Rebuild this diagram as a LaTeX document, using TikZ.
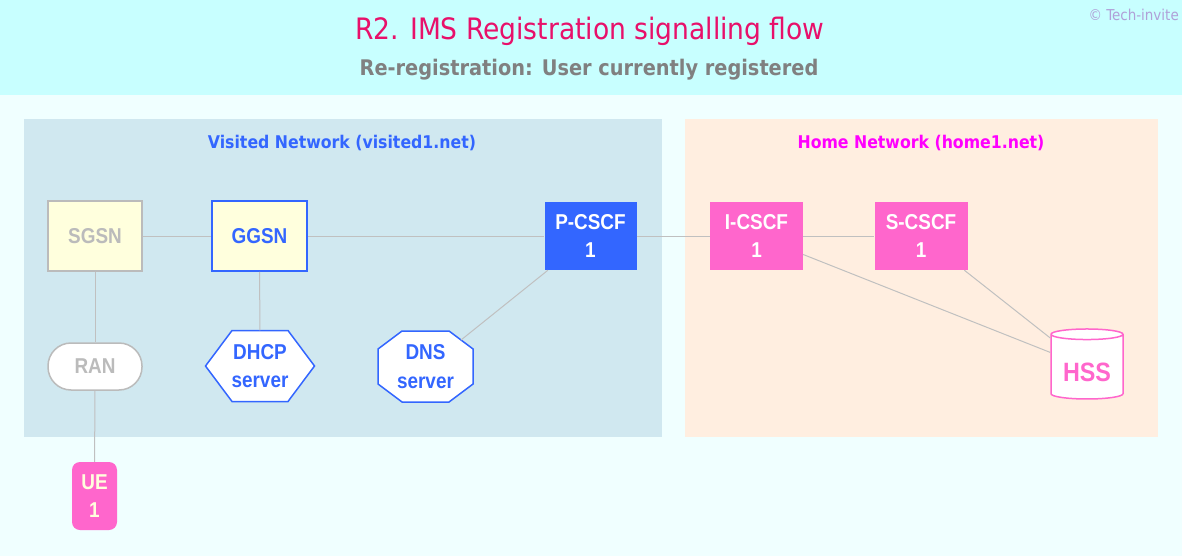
\documentclass[tikz,border=0pt]{standalone}
\usepackage{fontspec}
\setmainfont{Liberation Sans}
\newfontfamily\condfont{DejaVu Sans Condensed}
\newfontfamily\nodefam{Liberation Sans}[FakeStretch=0.88]
\usetikzlibrary{shapes.geometric,shapes.misc,calc}
\definecolor{outerbg}{RGB}{240,255,255}
\definecolor{topbg}{RGB}{200,255,255}
\definecolor{visitbg}{RGB}{208,232,240}
\definecolor{homebg}{RGB}{255,238,224}
\definecolor{conn}{RGB}{192,192,192}
\definecolor{ibblue}{RGB}{51,102,255}
\definecolor{ibpink}{RGB}{255,102,204}
\definecolor{ibyellow}{RGB}{255,255,221}
\definecolor{ibgrey}{RGB}{187,187,187}
\definecolor{titlered}{RGB}{232,16,106}
\definecolor{subgrey}{RGB}{128,128,128}
\definecolor{copyc}{RGB}{176,160,216}
\definecolor{homemag}{RGB}{255,0,255}
\begin{document}
\begin{tikzpicture}[x=1pt,y=-1pt,
  every node/.style={inner sep=0pt, align=center},
  nodefont/.style={font=\nodefam\fontsize{21.5}{28.5}\selectfont\bfseries},
  conline/.style={draw=conn, line width=1pt},
  greybox/.style={rectangle, nodefont, minimum width=94pt, minimum height=70pt, fill=ibyellow, draw=ibgrey, line width=1.5pt, text=ibgrey},
  bluebox/.style={rectangle, nodefont, minimum width=95pt, minimum height=70pt, fill=ibyellow, draw=ibblue, line width=1.5pt, text=ibblue},
  cscfblue/.style={rectangle, nodefont, minimum width=92pt, minimum height=68pt, fill=ibblue, text=white},
  cscfpink/.style={rectangle, nodefont, minimum width=93pt, minimum height=68pt, fill=ibpink, text=white},
  outlineblue/.style={draw=ibblue, fill=white, line width=1.5pt},
  ranstyle/.style={rectangle, rounded corners=23pt, nodefont, minimum width=94pt, minimum height=47pt, fill=white, draw=ibgrey, line width=1.5pt, text=ibgrey},
  uestyle/.style={rectangle, rounded corners=8pt, nodefont, minimum width=45pt, minimum height=68pt, fill=ibpink, text=ibyellow},
  hssstyle/.style={cylinder, shape border rotate=90, aspect=0.22, minimum width=72pt, minimum height=70pt, draw=ibpink, fill=white, line width=1.5pt, text=ibpink, font=\nodefam\fontsize{26.5}{28}\selectfont\bfseries},
  paneltitle/.style={font=\condfont\fontsize{17.5}{20}\selectfont\bfseries}
]
\useasboundingbox (0,0) rectangle (1182,556);
% backgrounds
\fill[outerbg] (0,0) rectangle (1182,556);
\fill[topbg] (0,0) rectangle (1182,95);
\fill[visitbg] (24,119) rectangle (662,437);
\fill[homebg] (685,119) rectangle (1158,437);
% titles
\node[text=titlered, font=\condfont\fontsize{29.5}{32}\selectfont] (title) at (590,31) {R2. IMS Registration signalling flow};
\node[text=subgrey, font=\condfont\fontsize{21.5}{24}\selectfont\bfseries] (subtitle) at (589,69.5) {Re-registration: User currently registered};
\node[text=copyc, font=\condfont\fontsize{15}{16}\selectfont, anchor=east] (copy) at (1179,15) {\char"00A9{} Tech-invite};
\node[paneltitle, text=ibblue] (vtitle) at (342,143) {Visited Network (visited1.net)};
\node[paneltitle, text=homemag] (htitle) at (921,143) {Home Network (home1.net)};
% nodes
\node[greybox] (sgsn) at (95,236) {SGSN};
\node[bluebox] (ggsn) at (259.5,236) {GGSN};
\node[cscfblue] (pcscf) at (590.5,236) {P-CSCF\\1};
\node[cscfpink] (icscf) at (756.5,236) {I-CSCF\\1};
\node[cscfpink] (scscf) at (921,236) {S-CSCF\\1};
\node[ranstyle] (ran) at (95,366.5) {RAN};
\node[uestyle] (ue) at (94.5,496) {UE\\1};
% DHCP hexagon
\draw[outlineblue] (205.5,366) -- (232,330.5) -- (288,330.5) -- (314.5,366) -- (288,401.5) -- (232,401.5) -- cycle;
\node[nodefont, text=ibblue, minimum width=109pt, minimum height=71pt] (dhcp) at (260,366) {DHCP\\server};
% DNS octagon
\draw[outlineblue] (378,349) -- (402,331) -- (449,331) -- (473,349) -- (473,384) -- (449,402) -- (402,402) -- (378,384) -- cycle;
\node[nodefont, text=ibblue, minimum width=95pt, minimum height=71pt] (dns) at (425.5,366.5) {DNS\\server};
\coordinate (dnsne) at (461,340);
% HSS
\node[hssstyle] (hss) at (1087,367) {\raisebox{-14pt}[0pt][0pt]{HSS}};
% connectors
\draw[conline] (sgsn) -- (ggsn);
\draw[conline] (ggsn) -- (pcscf);
\draw[conline] (pcscf) -- (icscf);
\draw[conline] (icscf) -- (scscf);
\draw[conline] (sgsn) -- (ran);
\draw[conline] (ran) -- (ue);
\draw[conline] (ggsn) -- (dhcp);
\draw[conline] (pcscf) -- (dnsne);
\draw[conline] (icscf) -- (hss);
\draw[conline] (scscf) -- (hss);
\end{tikzpicture}
\end{document}
